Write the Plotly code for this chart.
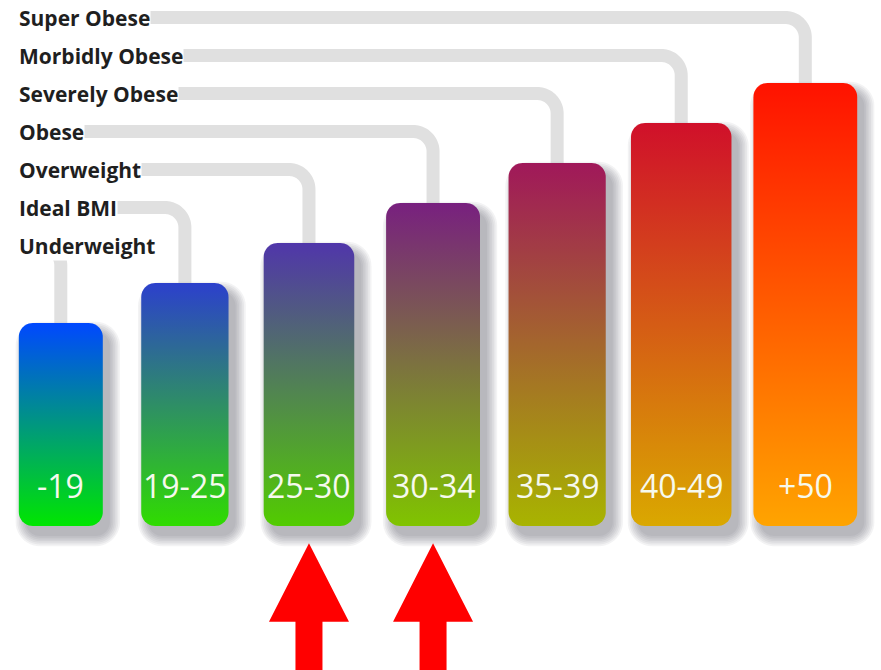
import numpy as np
import plotly.graph_objects as go

# BMI ranges, their class names and the relative bar heights
categories = ["-19", "19-25", "25-30", "30-34", "35-39", "40-49", "+50"]
classes = ["Underweight", "Ideal BMI", "Overweight", "Obese",
           "Severely Obese", "Morbidly Obese", "Super Obese"]
bar_heights = [203, 243, 283, 323, 363, 403, 443]
highlighted = ["25-30", "30-34"]

# gradient end colours for each bar (top -> bottom)
top_colors = ["#0048FF", "#2C40CC", "#5036AA", "#78207F", "#A0185A", "#D0102A", "#FF1200"]
bottom_colors = ["#00E600", "#30DC00", "#52CC00", "#80C400", "#A8B400", "#DAA800", "#FFA400"]

W, H = 881, 670
XR = (-0.49, 6.61)
YR = (-144, 526)
PX = W / (XR[1] - XR[0])          # pixels per category step


def ux(px):
    return px / PX


def rounded_rect(cx, half_px, y0, y1, r):
    xs, ys = [], []
    for (ccx, ccy, a0) in [(half_px - r, y1 - r, 0), (-half_px + r, y1 - r, 90),
                           (-half_px + r, y0 + r, 180), (half_px - r, y0 + r, 270)]:
        t = np.radians(np.linspace(a0, a0 + 90, 12))
        xs.extend(cx + ux(ccx + r * np.cos(t)))
        ys.extend(ccy + r * np.sin(t))
    xs.append(xs[0]); ys.append(ys[0])
    return xs, ys


fig = go.Figure()

# connectors from each class name down to its bar
ROW0, ROW_GAP, R = 245.5, 38.0, 20
for i, h in enumerate(bar_heights):
    row_y = YR[1] - (ROW0 - ROW_GAP * i)
    x_start = XR[0] + ux(22)
    t = np.radians(np.linspace(90, 0, 24))
    arc_x = i - ux(R) + ux(R * np.cos(t))
    arc_y = row_y - R + R * np.sin(t)
    xs = [x_start] + list(arc_x) + [i]
    ys = [row_y] + list(arc_y) + [h - 6]
    fig.add_trace(go.Scatter(x=xs, y=ys, mode="lines",
                             line=dict(color="#E0E0E0", width=13, simplify=False),
                             hoverinfo="skip"))

widths_px = [84 + 3.3 * i for i in range(len(categories))]

# soft drop shadows
for i, h in enumerate(bar_heights):
    half = widths_px[i] / 2
    for k in range(7):
        e = 1.7 * k
        xs, ys = rounded_rect(i + ux(7), half + e, -10 - e, h - 9 + e, 14 + e)
        fig.add_trace(go.Scatter(x=xs, y=ys, mode="lines", fill="toself",
                                 line=dict(width=0, simplify=False),
                                 fillcolor="rgba(70,70,95,0.065)",
                                 hoverinfo="skip"))

# gradient bars
for i, h in enumerate(bar_heights):
    xs, ys = rounded_rect(i, widths_px[i] / 2, 0, h, 14)
    fig.add_trace(go.Scatter(
        x=xs, y=ys, mode="lines", fill="toself", line=dict(width=0, simplify=False),
        fillgradient=dict(type="vertical", start=0, stop=h,
                          colorscale=[[0, bottom_colors[i]], [1, top_colors[i]]]),
        hoverinfo="skip"))

# red arrows under the highlighted ranges
for cat in highlighted:
    c = categories.index(cat)
    pts = [(0, 543.3), (40, 621.7), (13.5, 621.7), (13.5, 700),
           (-13.5, 700), (-13.5, 621.7), (-40, 621.7), (0, 543.3)]
    fig.add_trace(go.Scatter(x=[c + ux(p[0]) for p in pts],
                             y=[YR[1] - p[1] for p in pts],
                             mode="lines", fill="toself", line=dict(width=0),
                             fillcolor="#FF0000", hoverinfo="skip"))

annotations = []
for i, cat in enumerate(categories):
    annotations.append(dict(x=i, y=YR[1] - 485, text=cat, showarrow=False,
                            xanchor="center", yanchor="middle",
                            font=dict(family="Open Sans", size=32, color="#F6F9EE")))
for i, name in enumerate(classes):
    annotations.append(dict(x=XR[0] + ux(18), y=YR[1] - (ROW0 - ROW_GAP * i),
                            text=name, showarrow=False, xanchor="left",
                            yanchor="middle", bgcolor="white", borderpad=0,
                            font=dict(family="Open Sans", size=21, color="#1F1F1F",
                                      weight=700)))

fig.update_layout(
    width=W, height=H, margin=dict(l=0, r=0, t=0, b=0),
    paper_bgcolor="white", plot_bgcolor="white", showlegend=False,
    xaxis=dict(range=list(XR), visible=False, fixedrange=True),
    yaxis=dict(range=list(YR), visible=False, fixedrange=True),
    annotations=annotations,
)

fig.write_html("out.html")
